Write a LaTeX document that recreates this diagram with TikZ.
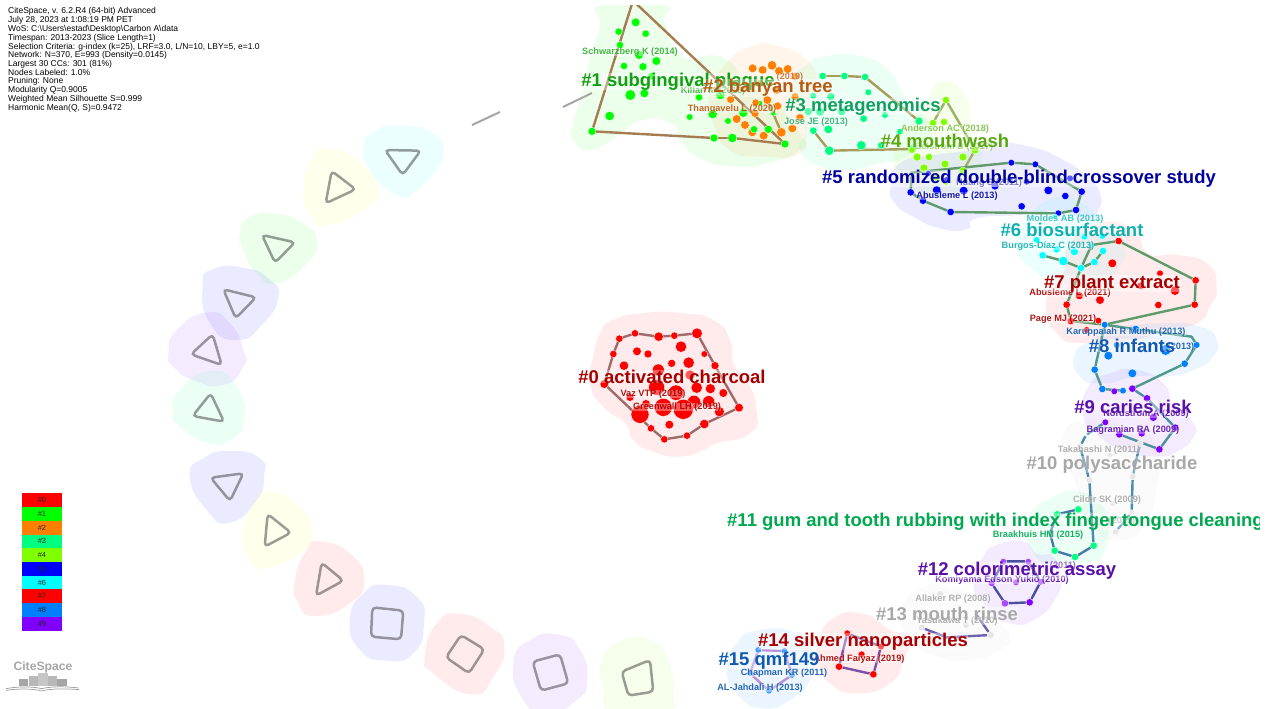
\documentclass[tikz,border=0pt]{standalone}
\usepackage{fontspec}
\setmainfont{Liberation Sans}
\pgfdeclarelayer{blobs}\pgfdeclarelayer{hulls}
\pgfsetlayers{blobs,hulls,main}
\definecolor{cA}{HTML}{A80000}\definecolor{cB}{HTML}{10A010}\definecolor{cC}{HTML}{B85A10}
\definecolor{cD}{HTML}{10A060}\definecolor{cE}{HTML}{58A810}\definecolor{cF}{HTML}{0000A0}
\definecolor{cG}{HTML}{10B0B0}\definecolor{cH}{HTML}{1058B0}\definecolor{cI}{HTML}{5810A8}
\definecolor{cJ}{HTML}{A8A8A8}\definecolor{cK}{HTML}{00A850}
\definecolor{nO}{HTML}{FF8000}\definecolor{nS}{HTML}{00FF80}\definecolor{nC}{HTML}{80FF00}
\definecolor{nB}{HTML}{0080FF}\definecolor{nP}{HTML}{8000FF}\definecolor{nL}{HTML}{E6E6E6}
\definecolor{nQ}{HTML}{A848FF}\definecolor{nR}{HTML}{4898FF}
\definecolor{nY}{HTML}{00FFFF}\definecolor{nW}{HTML}{FFFF00}
\definecolor{hA}{HTML}{A06A6A}\definecolor{hB}{HTML}{A67C52}\definecolor{hC}{HTML}{A89C5A}
\definecolor{hD}{HTML}{9FB068}\definecolor{hE}{HTML}{5F9A6A}\definecolor{hF}{HTML}{4F9A88}
\definecolor{hG}{HTML}{4F90A0}\definecolor{hH}{HTML}{4A8AAC}\definecolor{hI}{HTML}{4878A8}
\definecolor{hJ}{HTML}{4A50A0}\definecolor{hK}{HTML}{7060B0}\definecolor{hL}{HTML}{8050A8}
\definecolor{hM}{HTML}{B890D8}
\tikzset{
  ball/.style={circle,inner sep=0pt,fill=#1,draw=white,line width=.3pt},
  hullline/.style={draw=#1,line width=2.4pt,line cap=round},
  ring/.style={draw=#1,line width=2.5pt,rounded corners=4pt,draw opacity=.55},
  biglab/.style={font=\fontsize{18.5}{20}\selectfont\bfseries,text=#1,fill=white,fill opacity=.35,text opacity=1,inner sep=0pt,anchor=center},
  smalllab/.style={font=\fontsize{9.2}{10}\selectfont\bfseries,text=#1,fill=white,fill opacity=.35,text opacity=.9,inner sep=0pt,anchor=center},
  zoomed/.style={shift={#1},x=.33333pt,y=-.33333pt},
  headline/.style={font=\fontsize{8.5}{7.8}\selectfont,anchor=north west,align=left,inner sep=0pt},
  legendcell/.style={minimum width=40pt,minimum height=13.75pt,inner sep=0pt,font=\fontsize{7.5}{8}\selectfont,text=black!85}
}
\newcommand\blob[2]{\begin{pgfonlayer}{blobs}\fill[#1,fill opacity=.08] plot[smooth cycle,tension=1] coordinates {#2};\end{pgfonlayer}}
\newcommand\clusterballs[3]{\foreach \x/\y/\r [count=\i] in {#3} {\node[ball=#2,minimum size={2*\r/3}] (#1-\i) at (\x,\y) {};}}
\newcommand\hullpath[2]{\begin{pgfonlayer}{hulls}\foreach \n [count=\c,remember=\n as \p] in {#2} {\ifnum\c>1 \draw[hullline=#1] (\p) -- (\n);\fi}\end{pgfonlayer}}
\newcommand\lab[5][smalllab]{\node[#1=#3] (#2) at (#4) {#5};}
\begin{document}
\begin{tikzpicture}[x=1pt,y=-1pt]
\useasboundingbox (0,0) rectangle (1275,709);

% --- ring of empty clusters, zoom 8
\begin{scope}[zoomed={(160,90)}]
\blob{nY}{(610,180) (640,125) (730,108) (820,130) (850,180) (830,240) (770,300) (725,320) (660,280) (625,230)}
\draw[ring=black!70] (675,180) -- (782,182) -- (728,255) -- cycle;
\blob{nW}{(430,300) (460,200) (520,178) (600,220) (655,300) (620,355) (510,405) (455,380)}
\draw[ring=black!70] (515,243) -- (587,298) -- (497,340) -- cycle;
\blob{green}{(240,430) (270,380) (350,372) (430,400) (472,455) (440,520) (350,580) (290,550) (250,480)}
\draw[ring=black!70] (306,435) -- (405,457) -- (345,518) -- cycle;
\blob{blue}{(128,590) (160,537) (260,535) (330,570) (355,620) (310,700) (230,750) (150,700)}
\draw[ring=black!70] (190,598) -- (288,622) -- (227,685) -- cycle;
\blob{nP}{(25,790) (50,720) (140,668) (210,700) (250,780) (250,830) (190,885) (100,870) (40,830)}
\draw[ring=black!70] (158,733) -- (185,825) -- (93,793) -- cycle;
\end{scope}
% --- zoom 9
\begin{scope}[zoomed={(170,370)}]
\blob{nS}{(8,130) (30,60) (120,3) (200,50) (222,150) (180,210) (110,218) (30,170)}
\draw[ring=black!70] (122,70) -- (162,155) -- (68,138) -- cycle;
\blob{blue}{(60,320) (100,265) (180,243) (270,265) (282,320) (260,390) (180,458) (110,420)}
\draw[ring=black!70] (122,323) -- (220,310) -- (180,393) -- cycle;
\blob{nW}{(218,490) (250,400) (300,365) (380,400) (425,480) (390,550) (280,595) (240,570)}
\draw[ring=black!70] (293,432) -- (363,488) -- (284,530) -- cycle;
\blob{red}{(375,630) (410,540) (450,515) (540,550) (582,630) (540,700) (435,738) (385,700)}
\draw[ring=black!70] (455,578) -- (520,632) -- (438,677) -- cycle;
\blob{blue}{(540,750) (580,670) (650,645) (740,680) (762,760) (730,850) (650,872) (570,840)}
\draw[ring=black!70] (607,712) -- (700,722) -- (693,808) -- (603,800) -- cycle;
\blob{red}{(765,860) (800,760) (870,732) (960,770) (1003,830) (970,920) (905,973) (790,910)}
\draw[ring=black!70] (873,795) -- (943,838) -- (897,910) -- (828,862) -- cycle;
\blob{nP}{(1030,880) (1080,810) (1170,795) (1230,840) (1252,930) (1220,990) (1130,1030) (1060,990)}
\draw[ring=black!70] (1088,875) -- (1170,853) -- (1195,940) -- (1113,962) -- cycle;
\blob{nC}{(1293,880) (1350,815) (1440,810) (1495,870) (1510,980) (1490,1020) (1330,1030) (1300,950)}
\draw[ring=black!70] (1355,905) -- (1440,870) -- (1450,965) -- (1375,977) -- cycle;
\end{scope}

% free grey segments
\coordinate (gA) at (472,125);\coordinate (gB) at (500,112);\coordinate (gC) at (563,107);\coordinate (gD) at (592,93);
\draw[draw=black!35,line width=2pt] (gA) -- (gB);
\draw[draw=black!35,line width=2pt] (gC) -- (gD);

% --- cluster 0
\begin{scope}[zoomed={(570,300)}]
\blob{red}{(130,60) (230,38) (340,40) (430,60) (480,120) (490,190) (530,240) (560,330) (540,400) (440,430) (400,450) (330,470) (250,455) (190,420) (165,370) (100,320) (60,250) (70,170) (90,100)}
\clusterballs{c0}{red}{148/116/11,195/100/11,266/110/14,313/107/11,381/100/16,435/197/12,507/323/13,403/372/14,351/407/11,283/418/11,243/385/11,103/252/13,130/162/11,
201/154/13,234/162/12,333/140/17,403/162/10,162/197/14,305/190/12,356/188/17,265/210/18,360/225/15,260/262/24,318/278/23,380/263/17,421/266/15,460/279/13,180/292/12,228/312/13,372/306/20,416/305/18,448/335/15,210/343/27,280/322/27,340/328/30,298/374/13}
\hullpath{hA}{c0-1,c0-2,c0-3,c0-4,c0-5,c0-6,c0-7,c0-8,c0-9,c0-10,c0-11,c0-12,c0-13,c0-1}
\end{scope}

% --- clusters 1,2,3 zoom 2
\begin{scope}[zoomed={(560,0)}]
\blob{green}{(125,15) (310,15) (315,70) (370,170) (480,170) (560,240) (640,300) (720,400) (720,450) (620,490) (540,500) (430,480) (360,420) (340,375) (250,360) (170,410) (90,450) (40,420) (40,370) (70,270) (90,170) (120,80)}
\blob{nO}{(490,200) (570,140) (660,140) (740,180) (770,240) (750,300) (740,390) (720,460) (610,470) (510,450) (460,370) (450,280)}
\blob{nS}{(745,190) (790,170) (900,168) (985,210) (1030,280) (1085,340) (1110,400) (1040,470) (960,490) (870,510) (780,500) (720,450) (735,390) (700,320) (690,250)}
\clusterballs{c1}{green}{219/2/9,96/394/12,462/414/12,517/414/14,675/432/12,
227/67/13,176/95/11,257/101/11,180/135/11,237/165/13,289/183/13,192/198/11,249/200/12,275/228/11,211/285/16,253/280/13,149/348/14,417/292/11,481/285/14,389/351/10,458/342/14,550/338/14,504/363/10,600/310/8,640/340/8}
\hullpath{hB}{c1-1,c1-2,c1-3,c1-4,c1-5,c1-1}
\clusterballs{c2}{nO}{622/300/13,664/397/14,578/205/13,608/210/13,636/196/14,657/213/13,683/207/13,705/230/12,560/260/12,512/298/12,587/308/11,653/318/12,585/340/12,530/357/13,555/375/13,577/397/13,611/407/13,697/385/13,720/352/12,650/270/13,705/290/12,600/250/12}
\hullpath{hC}{c2-1,c2-2}
\clusterballs{c3}{nS}{788/228/11,853/228/11,915/231/11,1077/363/12,1056/447/12,808/452/14,760/392/11,925/277/10,911/356/11,975/345/10,805/388/13,760/287/10,812/290/12,845/335/12,780/335/13,745/335/12,1020/395/10,904/436/14,964/436/11}
\hullpath{hC}{c3-1,c3-2,c3-3,c3-4}
\hullpath{hC}{c3-5,c3-6,c3-7}
\node[ball=green,minimum size=7.3] (c1x) at (582,388) {};
\node[ball=green,minimum size=8] (c1y) at (625,388) {};
\end{scope}

% --- cluster 4, pixel coordinates
\begin{scope}
\blob{nC}{(940,82) (965,95) (972,130) (982,150) (975,180) (960,195) (930,195) (900,175) (895,150) (905,130) (925,105)}
\clusterballs{c4}{nC}{946/100/11,975/150/12,963/171/12,946/182/10,924/168/12,912/150/10,933/123/11,944/122/11,917/157/12,929/157/11,945/164/12,963/157/12,936/178/10}
\hullpath{hD}{c4-1,c4-2,c4-3}
\hullpath{hD}{c4-1,c4-7}
\end{scope}

% --- clusters 5,6,7 zoom 3
\begin{scope}[zoomed={(800,130)}]
\blob{blue}{(272,170) (300,100) (400,75) (500,62) (580,40) (690,50) (790,90) (860,140) (900,190) (895,240) (860,270) (780,245) (660,255) (530,265) (500,298) (420,295) (340,260) (285,220)}
\blob{nY}{(650,350) (680,270) (760,205) (840,215) (900,270) (965,340) (965,400) (900,450) (790,460) (700,420)}
\blob{red}{(810,340) (900,280) (1000,300) (1045,370) (1130,375) (1220,400) (1250,470) (1230,530) (1190,580) (1100,600) (1000,630) (860,640) (770,610) (740,510) (790,430)}
\clusterballs{c5}{blue}{634/98/10,706/103/10,845/185/11,828/240/11,775/250/10,452/246/11,369/212/11,332/187/11,
410/180/13,491/182/13,585/168/12,680/155/10,745/181/13,796/198/11,665/229/11,810/145/10,385/130/9,440/150/10}
\coordinate (c5-bend) at (335,128);
\hullpath{hE}{c5-1,c5-2,c5-3,c5-4,c5-5,c5-6,c5-7,c5-8,c5-bend,c5-1}
\clusterballs{c6}{nY}{710/330/10,728/376/11,790/393/14,843/414/11,883/396/11,909/363/11,907/318/10,853/320/10,823/365/12,770/358/11,765/260/8,875/345/6}
\hullpath{hE}{c6-2,c6-3,c6-4,c6-5,c6-6}
\clusterballs{c7}{red}{956/333/11,1187/451/11,1184/524/11,812/573/11,800/524/11,937/400/13,1080/430/10,1022/467/11,1125/482/14,1075/525/11,900/510/13,838/497/12,860/600/10,895/572/10}
\end{scope}

% --- clusters 8,9,10,11 zoom 4
\begin{scope}[zoomed={(960,320)}]
\blob{nB}{(345,100) (400,60) (440,30) (600,10) (720,20) (770,60) (760,110) (700,150) (620,170) (530,170) (430,190) (360,170)}
\blob{nP}{(385,200) (450,160) (530,150) (610,190) (640,250) (700,310) (700,350) (660,390) (590,410) (490,390) (420,350) (370,290)}
\blob{black!25}{(310,350) (400,300) (500,320) (590,380) (590,500) (550,620) (470,660) (400,620) (350,500)}
\blob{nS}{(210,590) (280,530) (360,515) (430,560) (445,640) (430,700) (400,725) (290,735) (215,690)}
\clusterballs{c8}{nB}{434/14/10,527/28/12,710/75/10,674/131/11,489/212/10,427/207/11,404/149/11,445/107/13,517/160/13,617/90/16,470/75/10}
\clusterballs{c9}{nP}{517/206/11,561/235/11,646/323/11,598/388/11,478/343/11,436/307/10,463/214/10,580/292/12,545/340/11}
\clusterballs{c10}{nL}{360/380/10,388/480/10,540/370/10,518/470/10,515/578/9,467/635/10,458/550/9,450/405/9,378/345/4}
\clusterballs{c11}{nS}{291/583/11,355/568/11,401/677/11,345/711/11,284/692/11}
\coordinate (c11-bend) at (270,640);
\coordinate (c8-bend) at (695,50);
\hullpath{hE}{c7-1,c7-2,c7-3,c8-1,c7-4,c7-5,c6-4,c6-12,c7-1}
\hullpath{hF}{c8-1,c8-2,c8-bend,c8-3,c8-4,c9-1}
\hullpath{hF}{c8-1,c8-7,c8-6,c8-5}
\hullpath{hG}{c9-1,c9-2,c9-3,c9-4,c9-5}
\hullpath{hH}{c9-6,c10-9,c10-1,c10-2,c11-3}
\hullpath{hH}{c10-3,c10-4,c10-5,c10-6}
\hullpath{hI}{c11-3,c11-4,c11-5,c11-bend,c11-1,c11-2}
\end{scope}

% --- clusters 12-15 zoom 5
\begin{scope}[zoomed={(690,540)}]
\blob{nP}{(850,130) (880,50) (920,15) (1000,5) (1040,40) (1090,50) (1110,110) (1100,170) (1040,235) (960,250) (890,200)}
\blob{black!20}{(640,190) (700,140) (780,140) (850,170) (920,240) (960,290) (930,330) (840,360) (740,350) (660,300) (630,240)}
\blob{red}{(385,310) (430,235) (520,222) (600,270) (660,290) (640,360) (600,430) (500,460) (420,430) (385,370)}
\blob{nB}{(110,390) (140,310) (210,270) (320,280) (370,340) (360,420) (300,480) (220,505) (150,470)}
\clusterballs{c12}{nQ}{1052/125/10,1019/187/11,945/190/11,905/130/10,940/65/10,1015/65/10,978/127/10}
\node[ball=nP,minimum size=7.3] (c12z) at (1019,187) {};
\hullpath{hJ}{c12-1,c12-2,c12-3,c12-4,c12-5,c12-6,c12-1}
\clusterballs{c13}{nL}{695/263/10,902/285/11,828/255/10,750/162/10}
\coordinate (c13-bend) at (770,292);
\coordinate (c13-top) at (860,225);
\hullpath{hK}{c13-1,c13-bend,c13-2,c13-top}
\clusterballs{c14}{red}{472/280/10,447/380/11,550/403/11,573/320/10,515/343/10}
\hullpath{hL}{c14-1,c14-2,c14-3,c14-4,c14-1}
\clusterballs{c15}{nR}{205/330/10,283/333/10,306/405/10,237/452/10,180/400/9}
\hullpath{hM}{c15-1,c15-2,c15-3,c15-4,c15-5,c15-1}
\end{scope}

% --- small labels
\lab{l1}{cB!85!white}{630,52}{Schwarzberg K (2014)}
\lab{l2}{cB!85!white}{713,91}{Kilian M (2016)}
\lab{l3}{cC!85!white}{790,77}{(2019)}
\lab{l4}{cC}{732,109}{Thangavelu L (2020)}
\lab{l5}{cD!85!white}{816,122}{Jose JE (2013)}
\lab{l6}{cE!75!white}{945,129}{Anderson AC (2018)}
\lab{l7}{cE!60!white}{954,147}{Belstrom D (2017)}
\lab{l8}{cF!85!white}{989,183}{Huang S (2011)}
\lab{l9}{cF}{957,196}{Abusleme L (2013)}
\lab{l10}{cG!85!white}{1065,219}{Moldes AB (2013)}
\lab{l11}{cG}{1048,246}{Burgos-Díaz C (2013)}
\lab{l12}{cA}{1070,293}{Abusleme L (2021)}
\lab{l13}{cA}{1063,319}{Page MJ (2021)}
\lab{l14}{cH}{1126,332}{Karuppaiah R Muthu (2013)}
\lab{l15}{cH}{1181,347}{(2013)}
\lab{l16}{cI}{1146,414}{Nordstrom A (2009)}
\lab{l17}{cI}{1133,430}{Bagramian RA (2009)}
\lab{l18}{cJ}{1099,450}{Takahashi N (2011)}
\lab{l19}{cJ}{1107,500}{Cildir SK (2009)}
\lab{l20}{cJ}{1122,521}{(2015)}
\lab{l21}{cK}{1038,535}{Braakhuis HM (2015)}
\lab{l22}{cI}{1063,566}{(2011)}
\lab{l23}{cI}{1002,580}{Komiyama Edson Yukio (2010)}
\lab{l24}{cJ}{953,599}{Allaker RP (2008)}
\lab{l25}{cJ}{957,621}{Yasukawa T (2010)}
\lab{l26}{cA}{859,659}{Ahmed Faiyaz (2019)}
\lab{l27}{cH}{784,673}{Chapman KR (2011)}
\lab{l28}{cH}{760,688}{AL-Jahdali H (2013)}
\lab{l30}{cA}{653,394}{Vaz VTP (2019)}
\lab{l31}{cA}{677,407}{Greenwall LH (2019)}

% --- cluster labels
\lab[biglab]{b0}{cA}{672,376.5}{\#0 activated charcoal}
\lab[biglab]{b1}{cB}{678,81.5}{\#1 subgingival plaque}
\lab[biglab]{b2}{cC}{768,88}{\#2 banyan tree}
\lab[biglab]{b3}{cD}{863,106.5}{\#3 metagenomics}
\lab[biglab]{b4}{cE}{945,140.5}{\#4 mouthwash}
\lab[biglab]{b5}{cF}{1019,178.5}{\#5 randomized double-blind crossover study}
\lab[biglab]{b6}{cG}{1072,229.5}{\#6 biosurfactant}
\lab[biglab]{b7}{cA}{1112,283.5}{\#7 plant extract}
\lab[biglab]{b8}{cH}{1132,345.5}{\#8 infants}
\lab[biglab]{b9}{cI}{1133,406.5}{\#9 caries risk}
\lab[biglab]{b10}{cJ}{1112,464.5}{\#10 polysaccharide}
\node[biglab=cK,anchor=west] (b11) at (727,521.5) {\#11 gum and tooth rubbing with index finger tongue cleaning};
\lab[biglab]{b12}{cI}{1017,570.5}{\#12 colorimetric assay}
\lab[biglab]{b13}{cJ}{947,613.5}{\#13 mouth rinse}
\lab[biglab]{b14}{cA}{863,641.5}{\#14 silver nanoparticles}
\lab[biglab]{b15}{cH}{769,660.5}{\#15 qmf149}

% --- image edges
\fill[white] (1260,0) rectangle (1275,709);
\fill[white] (0,0) rectangle (1275,5);

% --- header
\node[headline] (head) at (8,7) {CiteSpace, v. 6.2.R4 (64-bit) Advanced\\
July 28, 2023 at 1:08:19 PM PET\\
WoS: C:\textbackslash Users\textbackslash estad\textbackslash Desktop\textbackslash Carbon A\textbackslash data\\
Timespan: 2013-2023 (Slice Length=1)\\
Selection Criteria: g-index (k=25), LRF=3.0, L/N=10, LBY=5, e=1.0\\
Network: N=370, E=993 (Density=0.0145)\\
Largest 30 CCs: 301 (81\%)\\
Nodes Labeled: 1.0\%\\
Pruning: None\\
Modularity Q=0.9005\\
Weighted Mean Silhouette S=0.999\\
Harmonic Mean(Q, S)=0.9472};

% --- legend
\foreach \col [count=\i from 0] in {red,green,nO,nS,nC,blue,nY,red,nB,nP}
  \node[legendcell,fill=\col] (leg\i) at (42,{500.2+13.73*\i}) {\#\i};

% --- logo
\node[font=\fontsize{12.2}{13}\selectfont\bfseries,text=black!35,inner sep=0pt] (logo) at (43,667) {CiteSpace};
\begin{scope}[zoomed={(0,480)}]
\fill[black!35] (58,597) rectangle (84,618);
\fill[black!28] (86,587) rectangle (114,618);
\fill[black!22] (114,578) rectangle (144,618);
\fill[black!28] (144,587) rectangle (172,618);
\fill[black!35] (172,597) rectangle (200,618);
\draw[black!40,line width=.7pt] (18,626) .. controls (60,618) and (100,620) .. (125,626) .. controls (150,620) and (190,618) .. (236,624);
\draw[black!40,line width=.7pt] (18,631) .. controls (60,625) and (100,626) .. (125,633) .. controls (150,626) and (190,625) .. (238,629);
\end{scope}
\end{tikzpicture}
\end{document}
